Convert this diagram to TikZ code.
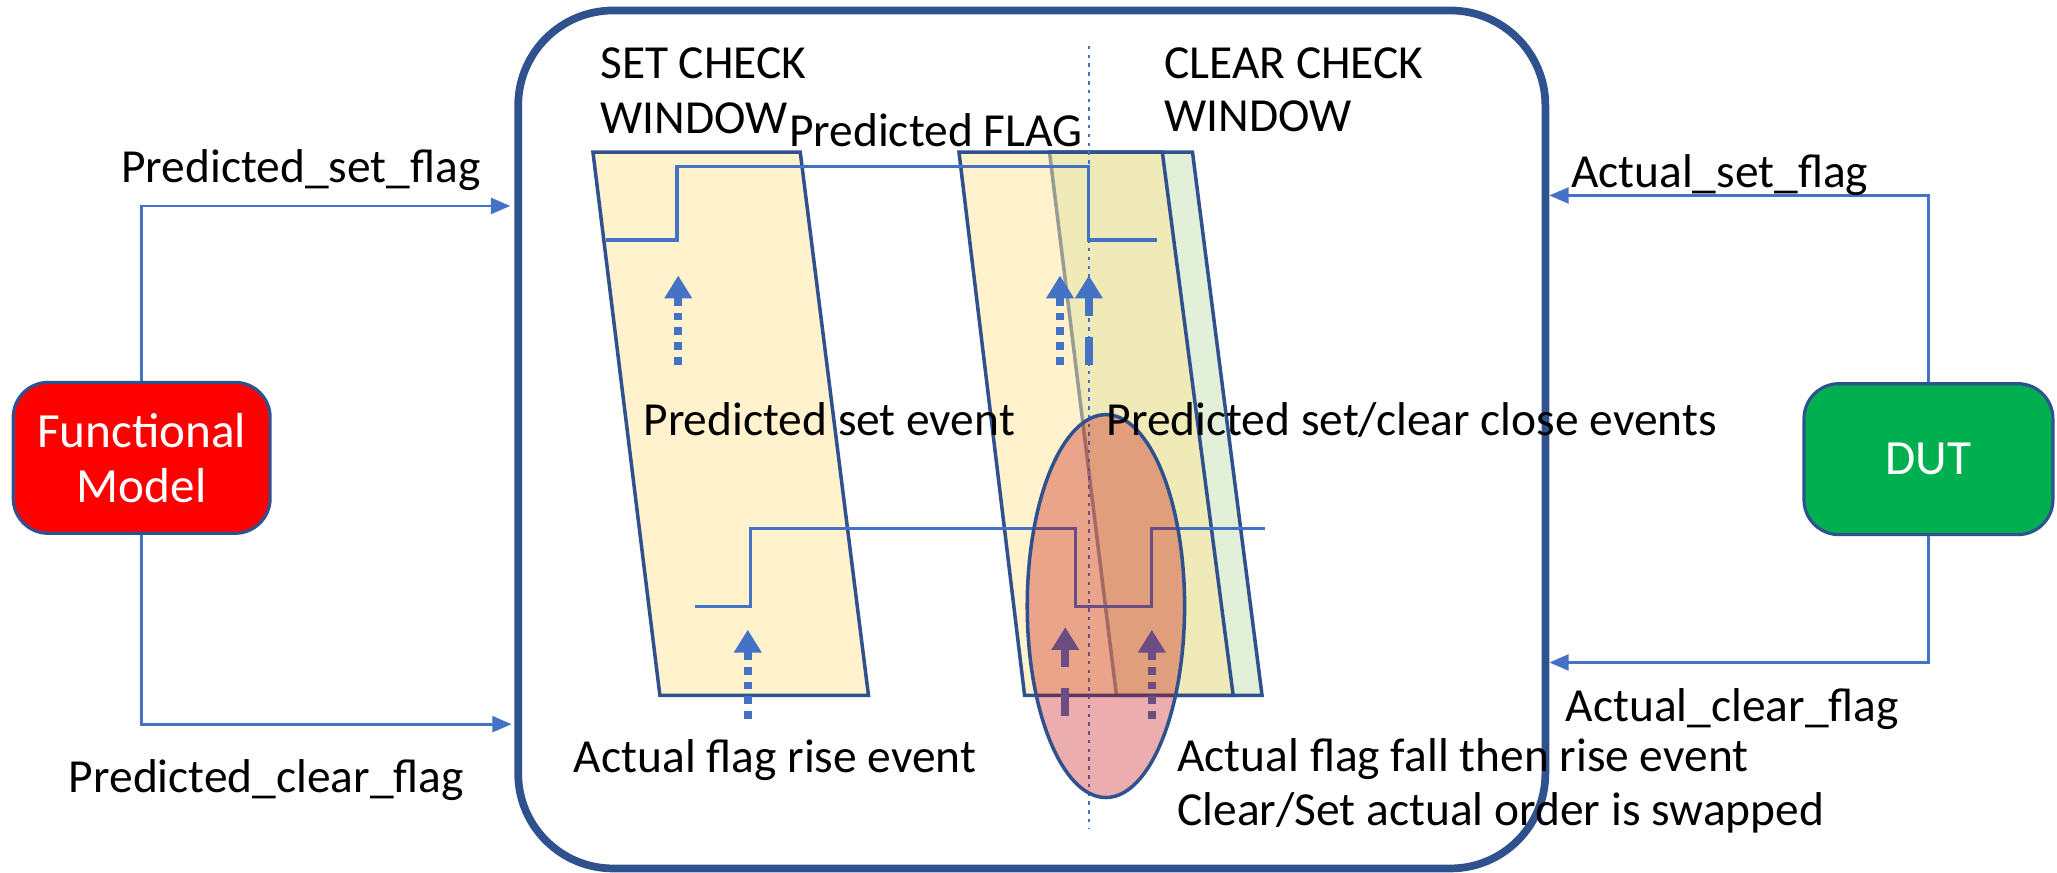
\documentclass[tikz,border=0pt]{standalone}
\usepackage{fontspec}
\setmainfont{Carlito}
\usepackage{tikz}
\usetikzlibrary{arrows.meta}
\usetikzlibrary{shapes.geometric}
\usepackage{xcolor}
\definecolor{sigblue}{HTML}{4472C4}
\definecolor{rimblue}{HTML}{2F528F}
\definecolor{winyellow}{HTML}{FFE699}
\definecolor{wingreen}{HTML}{E2F0D9}
\definecolor{modelred}{HTML}{FF0000}
\definecolor{dutgreen}{HTML}{00B050}
\definecolor{ovalred}{HTML}{C00000}

\tikzset{
  flagline/.style={draw=sigblue, line width=0.8pt, -{Triangle[length=5.5pt,width=4.5pt]}},
  unitbox/.style={draw=rimblue, line width=0.9pt, rounded corners=0.35cm, text=white, align=center, minimum height=1.51cm, font=\fontsize{14}{15.6}\selectfont},
  checkwin/.style={draw=rimblue, line width=1pt, fill=winyellow, fill opacity=0.5},
  wave/.style={draw=sigblue, line width=0.9pt},
  evdot/.style={draw=sigblue, line width=2.2pt, dash pattern=on 2.2pt off 2pt, -{Triangle[length=6.5pt,width=7.5pt]}},
  evdash/.style={draw=sigblue, line width=2.2pt, dash pattern=on 8pt off 6pt, -{Triangle[length=6.5pt,width=7.5pt]}},
  txt/.style={font=\fontsize{13.5}{16}\selectfont, inner sep=0pt, anchor=base west}
}

\begin{document}
\begin{tikzpicture}[x=0.01312cm, y=-0.01312cm]
\useasboundingbox (0,0) rectangle (1568,665);

\draw  [rimblue, line width=2.2pt, rounded corners=0.95cm] (395,8) rectangle (1178,662);

\node [unitbox, fill=modelred, minimum width=2.57cm] (fm) at (108,349) {Functional\\Model};
\node [unitbox, fill=dutgreen, minimum width=2.49cm] (dut) at (1470,350) {DUT};

\coordinate (psIn) at (389,157);
\coordinate (pcIn) at (390,552);
\coordinate (asIn) at (1181,149);
\coordinate (acIn) at (1181,505);
\draw  [flagline] (fm.north) |- (psIn);
\draw  [flagline] (fm.south) |- (pcIn);
\draw  [flagline] (dut.north) |- (asIn);
\draw  [flagline] (dut.south) |- (acIn);

% check windows
\draw  [draw=rimblue, line width=1pt, fill=wingreen] (800,116) -- (909,116) -- (962,530) -- (851,530) -- cycle;
\draw  [checkwin] (452,116) -- (610,116) -- (662,530) -- (503,530) -- cycle;
\draw  [checkwin] (731,116) -- (886,116) -- (940,530) -- (781,530) -- cycle;

\draw  [sigblue, line width=0.6pt, dash pattern=on 1pt off 1.5pt] (830,35) -- (830,632);

% predicted and actual flag
\draw  [wave] (462,183) -- (516,183) -- (516,127) -- (830,127) -- (830,183) -- (882,183);
\draw  [wave] (530,462) -- (572,462) -- (572,403) -- (820,403) -- (820,462) -- (878,462) -- (878,403) -- (964,403);

\draw  [evdot] (517,278) -- (517,210);
\draw  [evdot] (808,278) -- (808,210);
\draw  [evdash] (830,278) -- (830,210);
\draw  [evdot] (570,548) -- (570,480);
\draw  [evdash] (812,546) -- (812,478);
\draw  [evdot] (878,548) -- (878,480);

\node [draw=rimblue, line width=1pt, fill=ovalred, fill opacity=0.32, ellipse, minimum width=1.574cm, minimum height=3.83cm, inner sep=0pt] (swapoval) at (843,462) {};

\node [txt] (setwinA) at (457,60) {SET CHECK};
\node [txt] (setwinB) at (457,102) {WINDOW};
\node [txt] (predflag) at (601,112) {Predicted FLAG};
\node [txt] (clrwinA) at (887,60) {CLEAR CHECK};
\node [txt] (clrwinB) at (887,100) {WINDOW};
\node [txt] (predset) at (490,332) {Predicted set event};
\node [txt] (predclose) at (843,332) {Predicted set/clear close events};
\node [txt] (actrise) at (437,589) {Actual flag rise event};
\node [txt] (actfallA) at (897,588) {Actual flag fall then rise event};
\node [txt] (actfallB) at (897,629) {Clear/Set actual order is swapped};
\node [txt] (psflag) at (92,139) {Predicted\_set\_flag};
\node [txt] (pcflag) at (52,604) {Predicted\_clear\_flag};
\node [txt] (asflag) at (1197,143) {Actual\_set\_flag};
\node [txt] (acflag) at (1193,550) {Actual\_clear\_flag};

\end{tikzpicture}
\end{document}
